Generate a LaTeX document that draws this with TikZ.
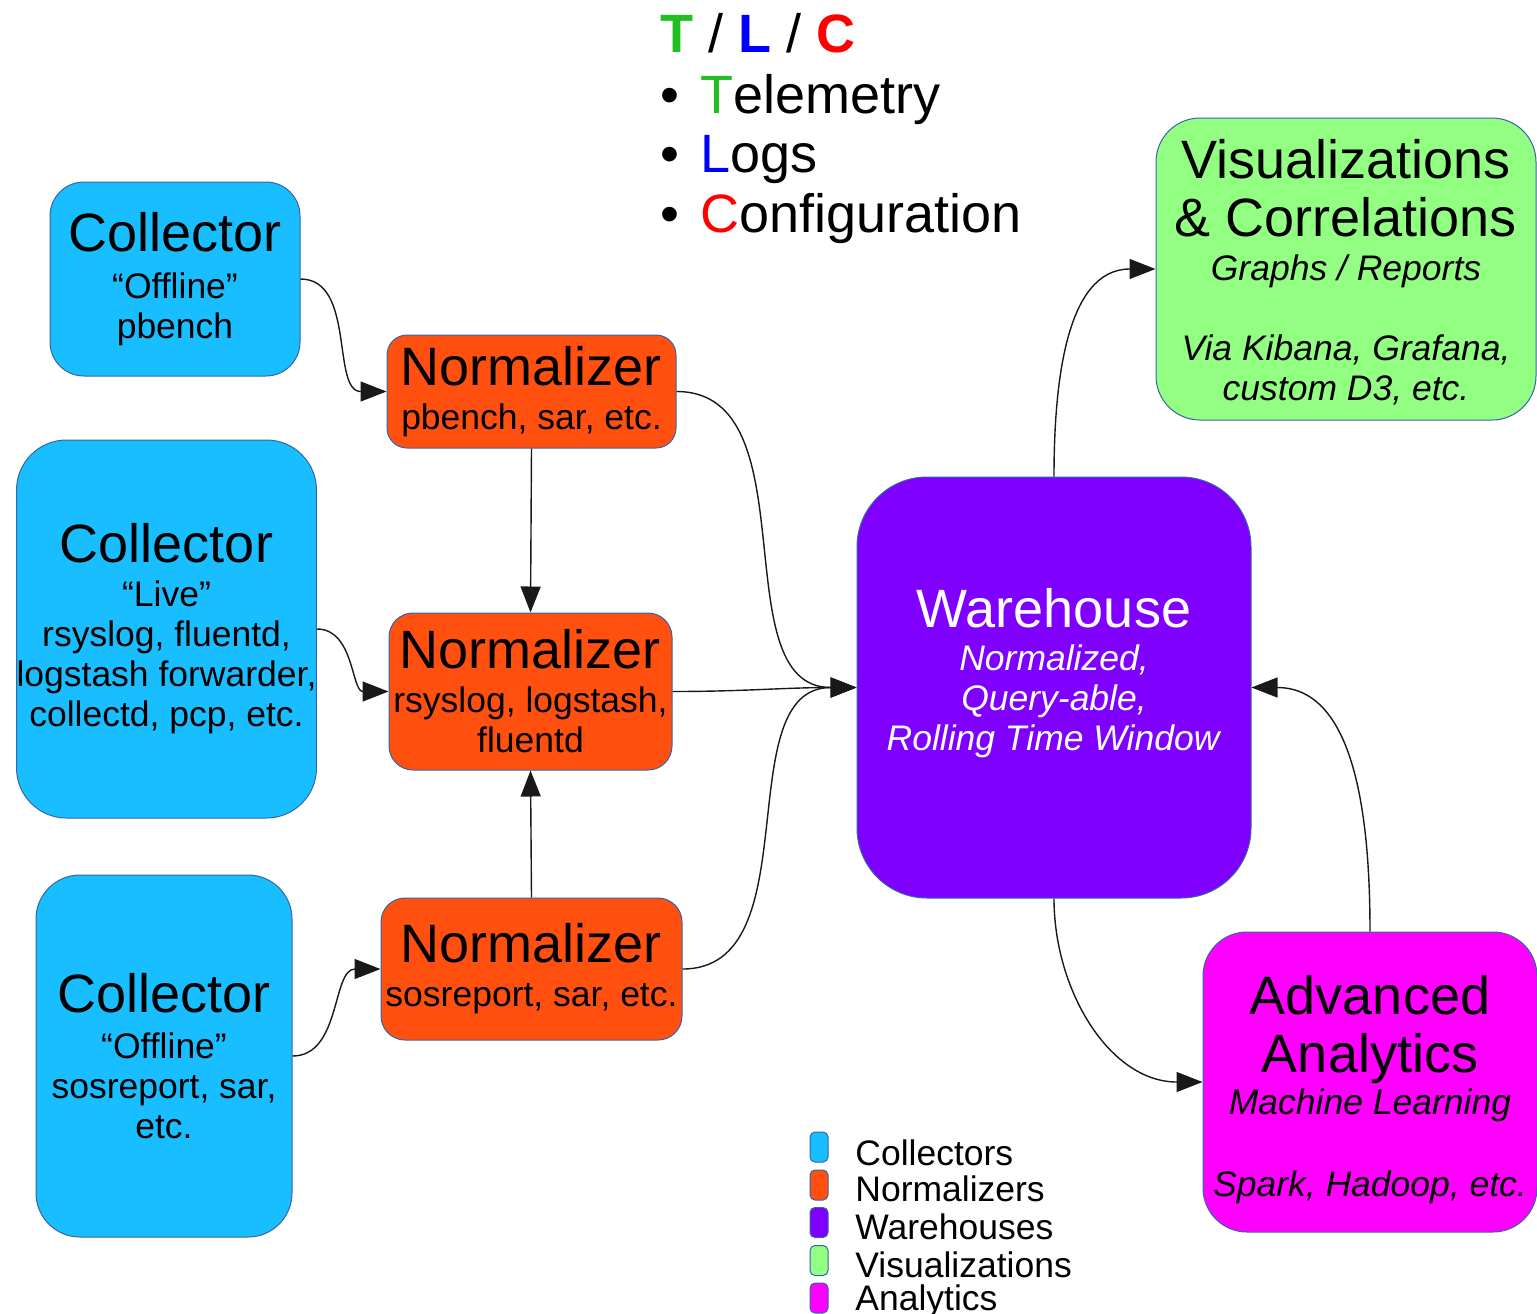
\documentclass[tikz,border=0pt]{standalone}
\usepackage{fontspec}
\setmainfont{Liberation Sans}
\usetikzlibrary{arrows.meta}
\definecolor{boxline}{RGB}{52,101,164}
\definecolor{collcol}{RGB}{24,190,255}
\definecolor{normcol}{RGB}{255,80,16}
\definecolor{warecol}{RGB}{128,0,255}
\definecolor{viscol}{RGB}{146,255,130}
\definecolor{anacol}{RGB}{255,0,255}
\definecolor{tgreen}{RGB}{34,190,34}
\definecolor{lblue}{RGB}{0,0,255}
\definecolor{cred}{RGB}{255,0,0}
\newcommand{\lgfont}{\fontsize{27}{30}\selectfont}
\newcommand{\smfont}{\fontsize{17.75}{20}\selectfont}
\tikzset{>={Triangle[length=13pt,width=10pt]}}
\tikzset{box/.style={draw=boxline,line width=0.5pt,inner sep=0pt,align=center,font=\smfont}}
\tikzset{coll/.style={box,fill=collcol}}
\tikzset{norm/.style={box,fill=normcol}}
\tikzset{ware/.style={box,fill=warecol,text=white}}
\tikzset{vis/.style={box,fill=viscol}}
\tikzset{ana/.style={box,fill=anacol}}
\tikzset{legkey/.style={draw=boxline,line width=0.5pt,inner sep=0pt,minimum width=9pt,minimum height=15pt,rounded corners=2.5pt}}
\tikzset{legtxt/.style={anchor=base west,inner sep=0pt,font=\smfont}}
\tikzset{conn/.style={->,line width=0.7pt,draw=black!90}}

\begin{document}
\begin{tikzpicture}[x=0.5pt,y=-0.5pt]
    \useasboundingbox (0,0) rectangle (1537,1313);
    % T/L/C heading
    \node[anchor=base west,inner sep=0pt,font=\lgfont] (H0) at (660,52) {\textcolor{tgreen}{\textbf{T}} / \textcolor{lblue}{\textbf{L}} / \textcolor{cred}{\textbf{C}}};
    \node[anchor=base west,inner sep=0pt,font=\lgfont] (H1) at (660,113) {•\hspace{3pt} \textcolor{tgreen}{T}elemetry};
    \node[anchor=base west,inner sep=0pt,font=\lgfont] (H2) at (660,172) {•\hspace{3pt} \textcolor{lblue}{L}ogs};
    \node[anchor=base west,inner sep=0pt,font=\lgfont] (H3) at (660,232) {•\hspace{3pt} \textcolor{cred}{C}onfiguration};
    % collectors
    \node[coll,minimum width=125pt,minimum height=97pt,rounded corners=17pt] (C1) at (175,279) {{\lgfont Collector}\\[3.5pt]“Offline”\\pbench};
    \node[coll,minimum width=148.5pt,minimum height=189pt,rounded corners=25pt] (C2) at (166.5,629) {{\lgfont Collector}\\[2pt]“Live”\\rsyslog, fluentd,\\logstash forwarder,\\collectd, pcp, etc.};
    \node[coll,minimum width=128pt,minimum height=181pt,rounded corners=22pt] (C3) at (164,1056) {{\lgfont Collector}\\[3pt]“Offline”\\sosreport, sar,\\etc.};
    % normalizers
    \node[norm,minimum width=144.5pt,minimum height=56.5pt,rounded corners=10pt] (N1) at (531.5,391.5) {{\lgfont Normalizer}\\[2pt]pbench, sar, etc.};
    \node[norm,minimum width=141.5pt,minimum height=78.5pt,rounded corners=12pt] (N2) at (530.5,691.5) {{\lgfont Normalizer}\\[2pt]rsyslog, logstash,\\fluentd};
    \node[norm,minimum width=150.5pt,minimum height=71pt,rounded corners=12pt] (N3) at (531.5,969) {{\lgfont Normalizer}\\[2pt]sosreport, sar, etc.};
    % warehouse, visualizations, analytics
    \node[ware,minimum width=197pt,minimum height=210.5pt,rounded corners=35pt] (W) at (1054,687.5) {{\lgfont Warehouse}\\[1.5pt]\textit{Normalized,}\\\textit{Query-able,}\\\textit{Rolling Time Window}\rule[-18pt]{0pt}{18pt}};
    \node[vis,minimum width=190pt,minimum height=151pt,rounded corners=22pt] (V) at (1346,269) {{\lgfont\rule{0pt}{23pt}Visualizations}\\[9pt]{\lgfont\& Correlations}\\[2pt]\textit{Graphs / Reports}\\[20pt]\textit{Via Kibana, Grafana,}\\\textit{custom D3, etc.}};
    \node[ana,minimum width=167pt,minimum height=150pt,rounded corners=22pt] (A) at (1370,1082) {{\lgfont\rule{0pt}{27pt}Advanced}\\[9pt]{\lgfont Analytics}\\[1pt]\textit{Machine Learning}\\[21pt]\textit{Spark, Hadoop, etc.}};
    % connectors
    \draw[conn] (C1.east) to[out=0,in=180] (N1.west);
    \draw[conn] (C2.east) to[out=0,in=180] (N2.west);
    \draw[conn] (C3.east) to[out=0,in=180] (N3.west);
    \draw[conn] (N1.south) -- (N2.north);
    \draw[conn] (N3.north) -- (N2.south);
    \draw[conn] (N1.east) to[out=0,in=180] (W.west);
    \draw[conn] (N2.east) to[out=0,in=180] (W.west);
    \draw[conn] (N3.east) to[out=0,in=180] (W.west);
    \draw[conn] (W.north) to[out=90,in=180] (V.west);
    \draw[conn] (W.south) to[out=-90,in=180] (A.west);
    \draw[conn] (A.north) to[out=90,in=0] (W.east);
    % legend
    \node[legkey,fill=collcol] (K1) at (819,1147) {};
    \node[legtxt] (L1) at (855,1165) {Collectors};
    \node[legkey,fill=normcol] (K2) at (819,1185) {};
    \node[legtxt] (L2) at (855,1201) {Normalizers};
    \node[legkey,fill=warecol] (K3) at (819,1222.5) {};
    \node[legtxt] (L3) at (855,1239) {Warehouses};
    \node[legkey,fill=viscol] (K4) at (819,1260.5) {};
    \node[legtxt] (L4) at (855,1277) {Visualizations};
    \node[legkey,fill=anacol] (K5) at (819,1298) {};
    \node[legtxt] (L5) at (855,1310) {Analytics};
\end{tikzpicture}
\end{document}
